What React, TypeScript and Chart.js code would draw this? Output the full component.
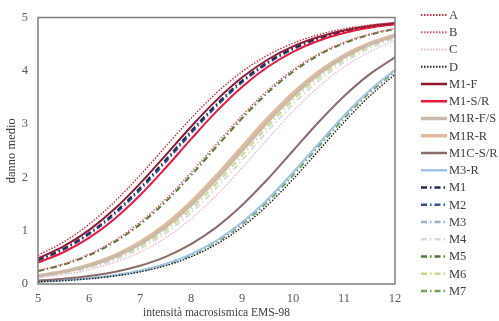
import React, { useEffect, useRef } from "react";
import { Chart, registerables } from "chart.js";

Chart.register(...registerables);

const intensity = [5, 5.5, 6, 6.5, 7, 7.5, 8, 8.5, 9, 9.5, 10, 10.5, 11, 11.5, 12];

const serieA = [0.539, 0.787, 1.119, 1.541, 2.038, 2.576, 3.107, 3.586, 3.983, 4.291, 4.517, 4.676, 4.786, 4.859, 4.908];
const serieB = [0.251, 0.378, 0.56, 0.816, 1.157, 1.588, 2.091, 2.63, 3.158, 3.63, 4.018, 4.317, 4.535, 4.689, 4.794];
const serieC = [0.116, 0.177, 0.268, 0.403, 0.596, 0.864, 1.22, 1.664, 2.176, 2.717, 3.238, 3.697, 4.071, 4.357, 4.564];
const serieD = [0.042, 0.064, 0.098, 0.15, 0.227, 0.343, 0.51, 0.747, 1.067, 1.477, 1.965, 2.5, 3.035, 3.523, 3.933];
const serieM1F = [0.48, 0.704, 1.01, 1.405, 1.883, 2.413, 2.951, 3.45, 3.873, 4.207, 4.457, 4.634, 4.757, 4.84, 4.895];
const serieM1SR = [0.403, 0.596, 0.864, 1.22, 1.664, 2.176, 2.717, 3.238, 3.697, 4.071, 4.357, 4.564, 4.709, 4.807, 4.874];
const serieM1RFS = [0.15, 0.227, 0.343, 0.51, 0.747, 1.067, 1.477, 1.965, 2.5, 3.035, 3.523, 3.933, 4.253, 4.49, 4.657];
const serieM1RR = [0.159, 0.241, 0.363, 0.539, 0.787, 1.119, 1.541, 2.038, 2.576, 3.107, 3.586, 3.983, 4.291, 4.517, 4.676];
const serieM1CSR = [0.064, 0.098, 0.15, 0.227, 0.343, 0.51, 0.747, 1.067, 1.477, 1.965, 2.5, 3.035, 3.523, 3.933, 4.253];
const serieM3R = [0.046, 0.071, 0.108, 0.166, 0.251, 0.378, 0.56, 0.816, 1.157, 1.588, 2.091, 2.63, 3.158, 3.63, 4.018];
const serieM1 = [0.45, 0.663, 0.955, 1.336, 1.802, 2.326, 2.867, 3.374, 3.811, 4.16, 4.422, 4.61, 4.74, 4.829, 4.888];
const serieM2 = [0.436, 0.643, 0.928, 1.302, 1.762, 2.283, 2.824, 3.336, 3.78, 4.135, 4.404, 4.597, 4.732, 4.823, 4.884];
const serieM3 = [0.045, 0.07, 0.106, 0.163, 0.247, 0.372, 0.552, 0.805, 1.145, 1.575, 2.078, 2.618, 3.148, 3.622, 4.012];
const serieM4 = [0.131, 0.199, 0.301, 0.45, 0.663, 0.955, 1.336, 1.802, 2.326, 2.867, 3.374, 3.811, 4.16, 4.422, 4.61];
const serieM5 = [0.241, 0.363, 0.539, 0.787, 1.119, 1.541, 2.038, 2.576, 3.107, 3.586, 3.983, 4.291, 4.517, 4.676, 4.786];
const serieM6 = [0.14, 0.213, 0.321, 0.48, 0.704, 1.01, 1.405, 1.883, 2.413, 2.951, 3.45, 3.873, 4.207, 4.457, 4.634];
const serieM7 = [0.044, 0.068, 0.104, 0.159, 0.241, 0.363, 0.539, 0.787, 1.119, 1.541, 2.038, 2.576, 3.107, 3.586, 3.983];

const seriesNames = ["A", "B", "C", "D", "M1-F", "M1-S/R", "M1R-F/S", "M1R-R", "M1C-S/R", "M3-R", "M1", "M2", "M3", "M4", "M5", "M6", "M7"];
const seriesValues = [serieA, serieB, serieC, serieD, serieM1F, serieM1SR, serieM1RFS, serieM1RR, serieM1CSR, serieM3R, serieM1, serieM2, serieM3, serieM4, serieM5, serieM6, serieM7];

const yTicks = [0, 1, 2, 3, 4, 5];
const xTicks = [5, 6, 7, 8, 9, 10, 11, 12];

const DOT = [1.5, 1.5];
const DASHDOT = [6, 3, 1.5, 3];
const styles = [
  { color: "#C8303A", width: 1.4, dash: DOT },
  { color: "#E8506A", width: 1.4, dash: DOT },
  { color: "#F4B7C3", width: 1.4, dash: DOT },
  { color: "#1E1E1E", width: 1.4, dash: DOT },
  { color: "#8E1B30", width: 2, dash: [] },
  { color: "#E8193C", width: 2, dash: [] },
  { color: "#C9B9AB", width: 3, dash: [] },
  { color: "#E3BB9C", width: 3, dash: [] },
  { color: "#8C6B68", width: 2, dash: [] },
  { color: "#9DC3E6", width: 2, dash: [] },
  { color: "#1F2D55", width: 2, dash: DASHDOT },
  { color: "#2F5597", width: 2, dash: DASHDOT },
  { color: "#95B3D7", width: 2, dash: DASHDOT },
  { color: "#D9D9D9", width: 2, dash: DASHDOT },
  { color: "#4F7F2F", width: 2, dash: DASHDOT },
  { color: "#C5DB8A", width: 2, dash: DASHDOT },
  { color: "#6AA84F", width: 2, dash: DASHDOT },
];

const SERIF = "'Liberation Serif', 'DejaVu Serif', serif";

const framePlugin = {
  id: "frame",
  afterDatasetsDraw(chart: any) {
    const { ctx, chartArea } = chart;
    ctx.save();
    ctx.strokeStyle = "#7F7F7F";
    ctx.lineWidth = 1.5;
    ctx.strokeRect(chartArea.left, chartArea.top, chartArea.right - chartArea.left, chartArea.bottom - chartArea.top);
    ctx.restore();
  },
};

const legendPlugin = {
  id: "sideLegend",
  afterDraw(chart: any) {
    const { ctx } = chart;
    ctx.save();
    ctx.font = `12.5px ${SERIF}`;
    ctx.textBaseline = "middle";
    ctx.textAlign = "left";
    chart.data.datasets.forEach((ds: any, i: number) => {
      const y = 15 + i * 17.25;
      ctx.beginPath();
      ctx.strokeStyle = ds.borderColor;
      ctx.lineWidth = Math.max(ds.borderWidth, 1.5) + 0.5;
      ctx.setLineDash(ds.borderDash);
      ctx.moveTo(421, y);
      ctx.lineTo(447, y);
      ctx.stroke();
      ctx.setLineDash([]);
      ctx.fillStyle = "#404040";
      ctx.fillText(ds.label, 449, y + 0.5);
    });
    ctx.restore();
  },
};

export default function App() {
  const ref = useRef<HTMLCanvasElement | null>(null);
  useEffect(() => {
    document.body.style.margin = "0";
    const canvas = ref.current;
    if (!canvas) return;
    const datasets = seriesNames.map((name, i) => ({
      label: name,
      data: intensity.map((x, j) => ({ x, y: seriesValues[i][j] })),
      borderColor: styles[i].color,
      backgroundColor: styles[i].color,
      borderWidth: styles[i].width,
      borderDash: styles[i].dash,
      pointRadius: 0,
      fill: false,
      cubicInterpolationMode: "monotone" as const,
    }));
    const chart = new Chart(canvas, {
      type: "line",
      data: { datasets },
      options: {
        animation: false,
        responsive: false,
        devicePixelRatio: 1,
        layout: { padding: { top: 11, right: 104, left: 0, bottom: 0 } },
        plugins: { legend: { display: false }, tooltip: { enabled: false } },
        scales: {
          x: {
            type: "linear",
            min: 5,
            max: 12,
            afterBuildTicks: (s: any) => {
              s.ticks = xTicks.map((v) => ({ value: v }));
            },
            afterFit: (s: any) => {
              s.height = 37;
            },
            grid: { display: false, drawTicks: false },
            border: { display: false },
            ticks: { padding: 7, color: "#595959", font: { family: SERIF, size: 12.5 } },
            title: {
              display: true,
              text: "intensità macrosismica EMS-98",
              color: "#404040",
              font: { family: SERIF, size: 11.5 },
              padding: { top: 0, bottom: 1 },
            },
          },
          y: {
            type: "linear",
            min: 0,
            max: 5,
            afterBuildTicks: (s: any) => {
              s.ticks = yTicks.map((v) => ({ value: v }));
            },
            afterFit: (s: any) => {
              s.width = 38;
            },
            grid: { display: false, drawTicks: false },
            border: { display: false },
            ticks: { padding: 10, color: "#595959", font: { family: SERIF, size: 12.5 } },
            title: {
              display: true,
              text: "danno medio",
              color: "#404040",
              font: { family: SERIF, size: 12.5 },
              padding: { top: 4, bottom: 0 },
            },
          },
        },
      },
      plugins: [framePlugin, legendPlugin],
    });
    return () => chart.destroy();
  }, []);
  return (
    <div style={{ width: 499, height: 321, position: "relative" }}>
      <canvas ref={ref} width={499} height={321} style={{ display: "block" }} />
    </div>
  );
}
